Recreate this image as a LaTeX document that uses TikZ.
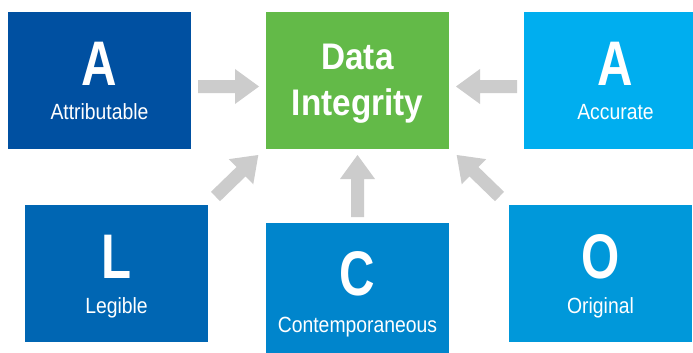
\documentclass[tikz,border=0pt]{standalone}
\usepackage{fontspec}
\setmainfont{Liberation Sans}
\newfontfamily\labfont[FakeStretch=0.88]{Liberation Sans}
\newfontfamily\bigfont[FakeStretch=0.78]{Liberation Sans}
\newfontfamily\ttlfont[FakeStretch=0.9]{Liberation Sans}
\usetikzlibrary{calc}
\definecolor{cAtt}{RGB}{0,80,161}
\definecolor{cDI}{RGB}{99,186,72}
\definecolor{cAcc}{RGB}{0,174,239}
\definecolor{cLeg}{RGB}{0,102,179}
\definecolor{cCon}{RGB}{0,133,204}
\definecolor{cOri}{RGB}{0,152,218}
\definecolor{cArr}{RGB}{204,204,204}
\newcommand\blockarrow[2]{%
  \coordinate (hb) at ($(#2)!24pt!(#1)$);
  \fill[cArr] ($(#1)!6.5pt!90:(#2)$) -- ($(hb)!6.5pt!90:(#2)$) -- ($(hb)!17.5pt!90:(#2)$)
    -- (#2) -- ($(hb)!17.5pt!-90:(#2)$) -- ($(hb)!6.5pt!-90:(#2)$) -- ($(#1)!6.5pt!-90:(#2)$) -- cycle;}
\begin{document}
\begin{tikzpicture}[x=1pt,y=-1pt,
  box/.style={rectangle, inner sep=0pt, outer sep=0pt, minimum width=183pt, minimum height=137pt},
  letter/.style={anchor=base, inner sep=0pt, text=white, font=\bigfont\bfseries\fontsize{63}{63}\selectfont},
  lbl/.style={anchor=base, inner sep=0pt, text=white, font=\labfont\fontsize{22}{22}\selectfont},
  ttl/.style={anchor=base, inner sep=0pt, text=white, font=\ttlfont\bfseries\fontsize{37}{37}\selectfont}]
\clip (0,0) rectangle (693,353);
\fill[white] (0,0) rectangle (693,353);
% boxes
\node[box, fill=cAtt] (att) at (99.5,80.5) {};
\node[box, fill=cDI]  (di)  at (357.5,80.5) {};
\node[box, fill=cAcc] (acc) at (615.5,80.5) {};
\node[box, fill=cLeg] (leg) at (116.5,273.5) {};
\node[box, fill=cCon] (con) at (357.5,291.5) {};
\node[box, fill=cOri] (ori) at (600.5,273.5) {};
% texts
\node[letter] (attL) at ([yshift=-73pt]att.north) {A};
\node[lbl]    (attT) at ([yshift=-107pt]att.north) {Attributable};
\node[ttl]    (di1)  at ([yshift=-58pt]di.north) {Data};
\node[ttl]    (di2)  at ([yshift=-103pt]di.north) {Integrity};
\node[letter] (accL) at ([yshift=-73pt]acc.north) {A};
\node[lbl]    (accT) at ([yshift=-107pt]acc.north) {Accurate};
\node[letter] (legL) at ([yshift=-73pt]leg.north) {L};
\node[lbl]    (legT) at ([yshift=-108pt]leg.north) {Legible};
\node[letter] (conL) at ([yshift=-72pt]con.north) {C};
\node[lbl]    (conT) at ([yshift=-109pt]con.north) {Contemporaneous};
\node[letter] (oriL) at ([yshift=-73pt]ori.north) {O};
\node[lbl]    (oriT) at ([yshift=-108pt]ori.north) {Original};
% arrow ends
\coordinate (a1s) at (198,86.5);   \coordinate (a1t) at (259,86.5);
\coordinate (a2s) at (517,86.5);   \coordinate (a2t) at (456,86.5);
\coordinate (a3s) at (357.5,217);  \coordinate (a3t) at (357.5,155);
\coordinate (a4s) at (215.5,196.5);\coordinate (a4t) at (258.3,155);
\coordinate (a5s) at (499.5,196.5);\coordinate (a5t) at (456.7,155);
\blockarrow{a1s}{a1t}
\blockarrow{a2s}{a2t}
\blockarrow{a3s}{a3t}
\blockarrow{a4s}{a4t}
\blockarrow{a5s}{a5t}
\end{tikzpicture}
\end{document}
